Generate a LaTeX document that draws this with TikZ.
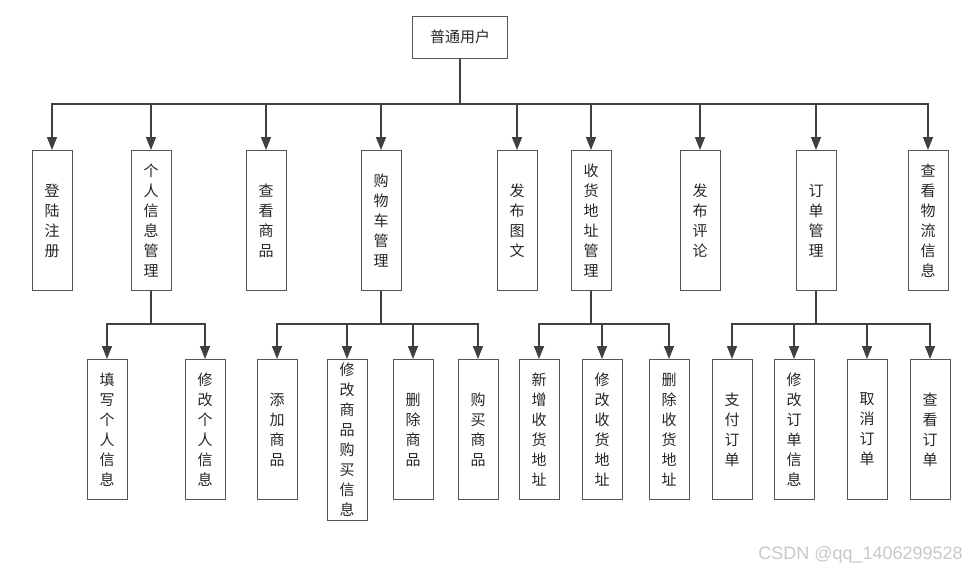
\documentclass[tikz,border=0pt]{standalone}
\usepackage{fontspec}
\newfontfamily\cjk{Noto Sans CJK SC}
\newfontfamily\markfont{Liberation Sans}
\usetikzlibrary{arrows.meta}
\definecolor{linegray}{RGB}{64,64,64}
\definecolor{boxgray}{RGB}{85,85,85}
\definecolor{markgray}{RGB}{200,200,200}
\tikzset{
  module/.style={
    draw=boxgray, line width=1pt, minimum width=40pt, minimum height=140pt,
    inner sep=0pt, anchor=north, align=center,
    font=\cjk\fontsize{15}{20}\selectfont, text=black!85
  },
  rootbox/.style={module, minimum width=95pt, minimum height=42pt, anchor=center},
  link/.style={draw=linegray, line width=1.5pt, -{Triangle[length=13pt,width=10pt]}},
}
\begin{document}
\begin{tikzpicture}[x=1pt, y=-1pt]
  \useasboundingbox (0,0) rectangle (967,573);
  \node[rootbox] (root) at (460,37) {普通用户};

  % first level
  \node[module] (reg)    at (52,150)  {登\\陆\\注\\册};
  \node[module] (info)   at (151,150) {个\\人\\信\\息\\管\\理};
  \node[module] (view)   at (266,150) {查\\看\\商\\品};
  \node[module] (cart)   at (381,150) {购\\物\\车\\管\\理};
  \node[module] (post)   at (517,150) {发\\布\\图\\文};
  \node[module] (addr)   at (591,150) {收\\货\\地\\址\\管\\理};
  \node[module] (review) at (700,150) {发\\布\\评\\论};
  \node[module] (order)  at (816,150) {订\\单\\管\\理};
  \node[module] (track)  at (928,150) {查\\看\\物\\流\\信\\息};

  % second level
  \node[module] (fillinfo) at (107,359) {填\\写\\个\\人\\信\\息};
  \node[module] (editinfo) at (205,359) {修\\改\\个\\人\\信\\息};
  \node[module] (additem)  at (277,359) {添\\加\\商\\品};
  \node[module, minimum height=161pt] (edititem) at (347,359) {修\\改\\商\\品\\购\\买\\信\\息};
  \node[module] (delitem)  at (413,359) {删\\除\\商\\品};
  \node[module] (buyitem)  at (478,359) {购\\买\\商\\品};
  \node[module] (newaddr)  at (539,359) {新\\增\\收\\货\\地\\址};
  \node[module] (editaddr) at (602,359) {修\\改\\收\\货\\地\\址};
  \node[module] (deladdr)  at (669,359) {删\\除\\收\\货\\地\\址};
  \node[module] (pay)      at (732,359) {支\\付\\订\\单};
  \node[module] (editord)  at (794,359) {修\\改\\订\\单\\信\\息};
  \node[module] (cancel)   at (867,359) {取\\消\\订\\单};
  \node[module] (vieword)  at (930,359) {查\\看\\订\\单};

  % buses
  \coordinate (bus) at (460,104);
  \coordinate (sub) at (0,324);
  \draw[draw=linegray, line width=2pt] (root.south) -- (bus);
  \foreach \c in {reg,info,view,cart,post,addr,review,order,track}
    \draw[link] (bus) -| (\c.north);
  \foreach \p/\kids in {info/{fillinfo,editinfo},
      cart/{additem,edititem,delitem,buyitem},
      addr/{newaddr,editaddr,deladdr},
      order/{pay,editord,cancel,vieword}}
    \foreach \k in \kids
      \draw[link] (\p.south) -- (\p.south |- sub) -| (\k.north);

  \node[anchor=east, font=\markfont\fontsize{18}{18}\selectfont, text=markgray, inner sep=0pt]
    (mark) at (963,555) {CSDN @qq\_1406299528};
\end{tikzpicture}
\end{document}
